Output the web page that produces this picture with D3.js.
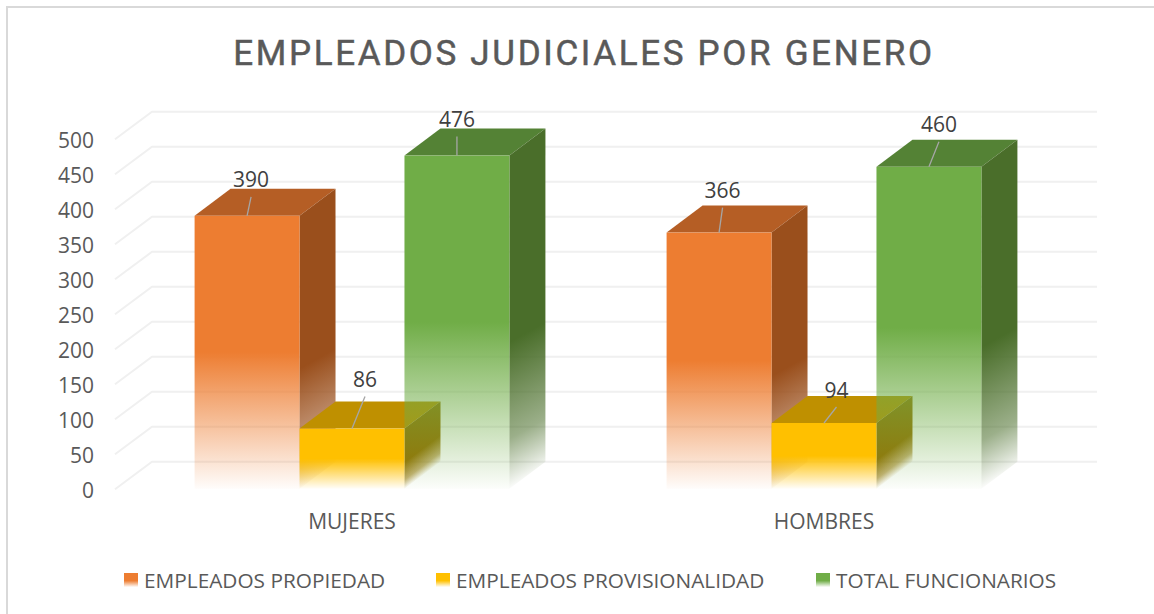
<!DOCTYPE html>
<html>
<head>
<meta charset="utf-8">
<script src="https://cdn.jsdelivr.net/npm/d3@7"></script>
<style>
  html, body { margin: 0; padding: 0; background: #fff; }
  svg { display: block; }
  text { font-family: "Open Sans", sans-serif; }
</style>
</head>
<body>
<svg></svg>
<script>
var width = 1154,
  height = 614;

var categories = ["MUJERES", "HOMBRES"];
var seriesNames = ["EMPLEADOS PROPIEDAD", "EMPLEADOS PROVISIONALIDAD", "TOTAL FUNCIONARIOS"];
var propiedad = [390, 366];
var provisionalidad = [86, 94];
var totalFuncionarios = [476, 460];
var yTicks = [0, 50, 100, 150, 200, 250, 300, 350, 400, 450, 500];

var seriesValues = [propiedad, provisionalidad, totalFuncionarios];
var frontColors = ["#ED7D31", "#FFC000", "#70AD47"];
var topColors = ["#B55E25", "#BF9000", "#548235"];
var sideColors = ["#9A4F1C", "#957000", "#4A6E2A"];

// depth of the 3D boxes
var depthX = 36,
  depthY = -27;

// how far the side fade climbs going from front edge to back edge
var sideTilt = [20, 27, 20];

var svg = d3.select("svg")
  .attr("width", width)
  .attr("height", height);

var defs = svg.append("defs");

var x0 = d3.scaleBand()
  .domain(categories)
  .range([116, 1060])
  .paddingInner(0.333)
  .paddingOuter(0.1665);

var x1 = d3.scaleBand()
  .domain(d3.range(seriesNames.length))
  .range([0, x0.bandwidth()]);

var y = d3.scaleLinear()
  .domain([0, 500])
  .range([488.8, 138.8]);

// solid for the top part, then fades out to nothing
function addStops(grad, color, solidTo) {
  grad.append("stop").attr("offset", 0).attr("stop-color", color);
  grad.append("stop").attr("offset", solidTo).attr("stop-color", color);
  grad.append("stop").attr("offset", 1).attr("stop-color", color).attr("stop-opacity", 0.02);
}

// chart frame, only the top and left edges are in the picture
svg.append("path")
  .attr("d", d3.line()([[7, height], [7, 7], [width, 7]]))
  .attr("fill", "none")
  .attr("stroke", "#D9D9D9")
  .attr("stroke-width", 2);

svg.append("text")
  .attr("x", 584)
  .attr("y", 64.5)
  .attr("text-anchor", "middle")
  .attr("fill", "#595959")
  .attr("stroke", "#595959")
  .attr("stroke-width", 0.5)
  .style("font-family", "Roboto")
  .style("font-size", "35px")
  .style("letter-spacing", "2.65px")
  .text("EMPLEADOS JUDICIALES POR GENERO");

// gridlines: back wall plus the short diagonal on the side wall
var grid = svg.append("g")
  .attr("fill", "none")
  .attr("stroke", "#F0F0F0")
  .attr("stroke-width", 2);

yTicks.forEach((t) => {
  grid.append("path")
    .attr("d", d3.line()([[115, y(t) + 0.5], [152, y(t) - 27], [1097, y(t) - 27]]));
});

var yAxis = d3.axisLeft(y)
  .tickValues(yTicks)
  .tickSize(0)
  .tickPadding(0);

var axisG = svg.append("g")
  .attr("transform", "translate(94,2)")
  .call(yAxis);
axisG.select(".domain").remove();
axisG.selectAll("text")
  .attr("fill", "#595959")
  .style("font-family", "Open Sans")
  .style("font-size", "21px");

// bars
seriesNames.forEach((name, s) => {
  categories.forEach((cat, c) => {
    var left = x0(cat) + x1(s);
    var right = left + x1.bandwidth();
    var top = y(seriesValues[s][c]);
    var bottom = y(0);
    var h = bottom - top;
    var g = svg.append("g").attr("class", "bar");

    var frontId = "front" + s + c;
    addStops(defs.append("linearGradient")
      .attr("id", frontId)
      .attr("gradientUnits", "userSpaceOnUse")
      .attr("x1", 0).attr("y1", top)
      .attr("x2", 0).attr("y2", bottom), frontColors[s], 0.5);

    // side fade: gradient vector square to the slanted fade lines
    var tilt = sideTilt[s];
    var len = Math.sqrt(depthX * depthX + tilt * tilt);
    var ux = tilt / len,
      uy = depthX / len;
    var sideId = "side" + s + c;
    var sideGrad = defs.append("linearGradient")
      .attr("id", sideId)
      .attr("gradientUnits", "userSpaceOnUse")
      .attr("x1", right).attr("y1", top)
      .attr("x2", right + ux * uy * h).attr("y2", top + uy * uy * h);
    sideGrad.append("stop").attr("offset", 0).attr("stop-color", sideColors[s]);
    sideGrad.append("stop").attr("offset", 0.56).attr("stop-color", sideColors[s]);
    sideGrad.append("stop").attr("offset", 0.85).attr("stop-color", sideColors[s]).attr("stop-opacity", 0.55);
    sideGrad.append("stop").attr("offset", 1).attr("stop-color", sideColors[s]).attr("stop-opacity", 0.02);

    g.append("path")
      .attr("fill", topColors[s])
      .attr("d", d3.line()([[left, top], [left + depthX, top + depthY], [right + depthX, top + depthY], [right, top]]) + "Z");

    g.append("path")
      .attr("fill", "url(#" + sideId + ")")
      .attr("d", d3.line()([[right, top], [right + depthX, top + depthY], [right + depthX, bottom + depthY], [right, bottom]]) + "Z");

    g.append("rect")
      .attr("x", left)
      .attr("y", top)
      .attr("width", right - left)
      .attr("height", h)
      .attr("fill", "url(#" + frontId + ")");
  });
});

// data labels with their leader lines, each one was dragged by hand in the original
var leaderShift = [
  [[4, -19], [3.5, -25]],
  [[13, -32], [12.5, -16]],
  [[0, -19], [10, -25]]
];

seriesNames.forEach((name, s) => {
  categories.forEach((cat, c) => {
    var px = x0(cat) + x1(s) + x1.bandwidth() / 2;
    var py = y(seriesValues[s][c]);
    var endX = px + leaderShift[s][c][0];
    var endY = py + leaderShift[s][c][1];

    svg.append("line")
      .attr("x1", px).attr("y1", py)
      .attr("x2", endX).attr("y2", endY)
      .attr("stroke", "#A6A6A6")
      .attr("stroke-width", 1.3);

    svg.append("text")
      .attr("x", endX)
      .attr("y", endY - 9.5)
      .attr("text-anchor", "middle")
      .attr("fill", "#404040")
      .style("font-size", "21px")
      .text(seriesValues[s][c]);
  });
});

// category labels
svg.selectAll(".cat")
  .data(categories)
  .enter().append("text")
  .attr("class", "cat")
  .attr("x", (d) => x0(d) + x0.bandwidth() / 2)
  .attr("y", 528.5)
  .attr("text-anchor", "middle")
  .attr("fill", "#595959")
  .style("font-size", "21px")
  .text((d) => d);

// legend
var legendX = [124, 436, 816];
seriesNames.forEach((name, s) => {
  var id = "legend" + s;
  addStops(defs.append("linearGradient")
    .attr("id", id)
    .attr("x1", 0).attr("y1", 0)
    .attr("x2", 0).attr("y2", 1), frontColors[s], 0.55);

  svg.append("rect")
    .attr("x", legendX[s])
    .attr("y", 573)
    .attr("width", 14)
    .attr("height", 14)
    .attr("fill", "url(#" + id + ")");

  svg.append("text")
    .attr("x", legendX[s] + 20)
    .attr("y", 587.5)
    .attr("fill", "#595959")
    .style("font-size", "20.8px")
    .text(name);
});
</script>
</body>
</html>
